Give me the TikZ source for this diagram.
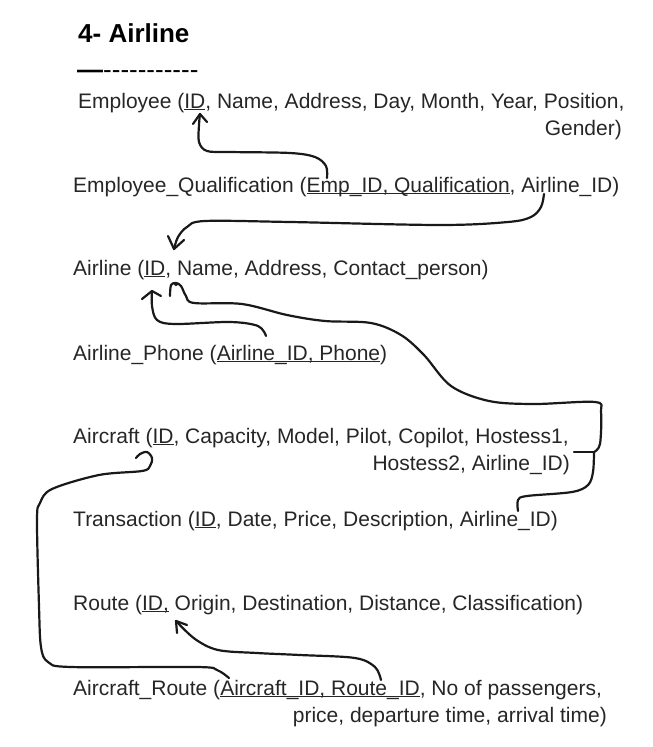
\documentclass[tikz,border=0pt]{standalone}
\usepackage{fontspec}
\setmainfont{Liberation Sans}
\newsavebox\ulbox
\newcommand\ulx[1]{\sbox\ulbox{#1}\rlap{\rule[-2.4pt]{\wd\ulbox}{1.3pt}}\usebox\ulbox}
\begin{document}
\begin{tikzpicture}[x=1pt,y=-1pt,
  txt/.style={font=\fontsize{21}{25}\selectfont, inner sep=0pt, anchor=base west, text=black!85},
  txtr/.style={txt, anchor=base east},
  ttl/.style={font=\fontsize{26}{30}\selectfont\bfseries, inner sep=0pt, anchor=base west},
  pen/.style={draw=black!90, line width=2.2pt, line cap=round, line join=round},
  hand/.style={pen, smooth, tension=0.55}]
\useasboundingbox (0,0) rectangle (653,747);

% texts
\node[ttl] (title) at (78,42) {4- Airline};
\node[ttl] (rule) at (77,78) {—{\mdseries-{}-{}-{}-{}-{}-{}-{}-{}-{}-{}-}};
\node[txt] (emp) at (78,108) {Employee (\ulx{ID}, Name, Address, Day, Month, Year, Position,};
\node[txtr] (emp2) at (622,135) {Gender)};
\node[txt] (eq) at (73,192) {Employee\_Qualification (\ulx{Emp\_ID, Qualification}, Airline\_ID)};
\node[txt] (air) at (73,275) {Airline (\ulx{ID}, Name, Address, Contact\_person)};
\node[txt] (ph) at (73,360) {Airline\_Phone (\ulx{Airline\_ID, Phone})};
\node[txt] (ac) at (73,443) {Aircraft (\ulx{ID}, Capacity, Model, Pilot, Copilot, Hostess1,};
\node[txtr] (ac2) at (570,470) {Hostess2, Airline\_ID)};
\node[txt] (tr) at (73,526) {Transaction (\ulx{ID}, Date, Price, Description, Airline\_ID)};
\node[txt] (rt) at (73,610) {Route (\ulx{ID,} Origin, Destination, Distance, Classification)};
\node[txt] (ar) at (73,695) {Aircraft\_Route (\ulx{Aircraft\_ID, Route\_ID}, No of passengers,};
\node[txtr] (ar2) at (607,722) {price, departure time, arrival time)};

% connector end points
\coordinate (empFK) at (327,178);
\coordinate (empPK) at (200,114);
\coordinate (eqAir) at (544,194);
\coordinate (airPK1) at (174,249);
\coordinate (phAir) at (266,336);
\coordinate (airPK2) at (152,291);
\coordinate (trAir) at (518,511);
\coordinate (J) at (594,452);
\coordinate (acAir) at (574,452);
\coordinate (airPK3) at (170,296);
\coordinate (arRoute) at (381,680);
\coordinate (rtPK) at (176,621);
\coordinate (arAc) at (229,678);
\coordinate (acPK) at (136,458);

% Emp_ID -> Employee.ID
\draw[hand] plot coordinates {(empFK) (326,166) (315,157) (290,153) (230,152) (207,151) (199,142) (199,125) (empPK)};
\draw[pen] (193,124) -- (empPK) -- (207,122);

% Employee_Qualification.Airline_ID -> Airline.ID
\draw[hand] plot coordinates {(eqAir) (541,207) (531,217) (508,222) (440,225) (290,222) (205,221) (187,227) (178,237) (airPK1)};
\draw[pen] (168,236) -- (airPK1) -- (184,240);

% Airline_Phone -> Airline.ID
\draw[hand] plot coordinates {(phAir) (258,326) (230,322) (175,324) (157,320) (152,306) (airPK2)};
\draw[pen] (142,299) -- (airPK2) -- (161,296);

% Transaction / Aircraft -> Airline.ID (right-hand route)
\draw[hand] plot coordinates {(trAir) (518,500) (527,496) (572,492) (588,485) (593,472) (J)};
\draw[hand] plot coordinates {(J) (600,444) (601,412) (595,402) (534,404) (489,401) (451,386) (424,355) (401,335) (371,323) (325,321) (287,315) (242,304) (194,303) (186,296) (181,286) (176,283) (171,285) (airPK3)};
\fill[black!90] (176,284) circle (2pt);
\draw[pen] (acAir) -- (J);

% Aircraft_Route.Route_ID -> Route.ID
\draw[hand] plot coordinates {(arRoute) (375,667) (355,658) (300,655) (257,653) (218,650) (195,639) (rtPK)};
\draw[pen] (177,633) -- (rtPK) -- (187,625);

% Aircraft_Route.Aircraft_ID -> Aircraft.ID
\draw[hand] plot coordinates {(arAc) (217,670) (197,667) (71,667) (48,662) (41,647) (39,606) (37,520) (40,503) (52,489) (99,475) (142,471) (150,466) (152,458) (147,452) (140,454) (acPK)};
\end{tikzpicture}
\end{document}
